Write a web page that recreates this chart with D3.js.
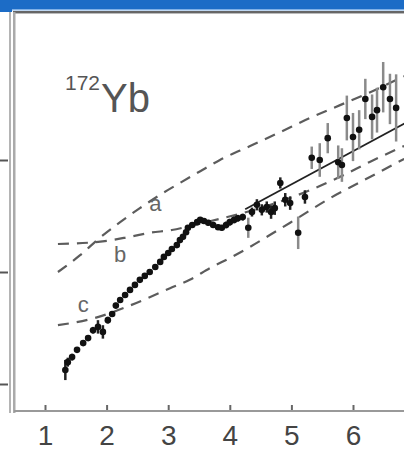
<!DOCTYPE html>
<html><head><meta charset="utf-8">
<script src="https://cdn.jsdelivr.net/npm/d3@7"></script>
<style>html,body{margin:0;padding:0;background:#fff;overflow:hidden}</style>
</head><body>
<svg id="chart" width="404" height="450"></svg>
<script>
// Level density of 172Yb: excitation energy (MeV) vs log10 of level density
const energy = [1.33,1.37,1.44,1.52,1.62,1.70,1.78,1.86,1.94,2.02,2.09,2.15,2.22,2.30,2.38,2.46,2.54,2.62,2.70,2.79,2.87,2.93,3.00,3.06,3.14,3.19,3.24,3.29,3.32,3.39,3.47,3.52,3.58,3.65,3.73,3.81,3.87,3.94,4.00,4.07,4.13,4.21,4.30,4.36,4.44,4.52,4.60,4.67,4.73,4.82,4.90,4.98,5.11,5.22,5.33,5.46,5.59,5.76,5.82,5.90,6.00,6.10,6.20,6.31,6.39,6.49,6.60,6.70];
const logRho = [2.25,2.39,2.48,2.61,2.73,2.82,2.96,3.02,2.93,3.14,3.25,3.40,3.50,3.59,3.68,3.77,3.86,3.93,4.00,4.09,4.18,4.27,4.34,4.41,4.48,4.57,4.63,4.71,4.79,4.84,4.89,4.93,4.91,4.88,4.84,4.80,4.79,4.84,4.89,4.93,4.96,4.98,4.79,5.07,5.20,5.11,5.16,5.07,5.14,5.59,5.29,5.23,4.70,5.34,6.04,6.00,6.39,5.96,5.91,6.75,6.41,6.54,7.09,6.77,6.89,7.30,7.09,6.93];
const logErr = [0.18,0.08,0.06,0.05,0.05,0.05,0.06,0.12,0.12,0.06,0.05,0.05,0.05,0.05,0.05,0.05,0.05,0.05,0.05,0.05,0.05,0.05,0.05,0.05,0.05,0.05,0.05,0.05,0.05,0.05,0.05,0.05,0.05,0.05,0.05,0.05,0.05,0.06,0.06,0.06,0.06,0.06,0.18,0.08,0.10,0.10,0.10,0.12,0.12,0.10,0.12,0.12,0.29,0.12,0.20,0.30,0.27,0.30,0.30,0.40,0.43,0.35,0.36,0.40,0.40,0.45,0.45,0.60];

// Model curves a, b, c
const curveAE = [1.21,1.57,1.89,2.22,2.54,2.87,3.19,3.52,3.84,4.33,4.82,5.30,5.79,6.28,6.83];
const curveAL = [4.00,4.30,4.61,4.89,5.14,5.38,5.59,5.80,6.00,6.25,6.50,6.75,6.98,7.21,7.50];
const curveBE = [1.21,1.97,2.38,2.70,3.06,3.35,3.84,4.33,4.82,5.30,5.79,6.28,6.83];
const curveBL = [4.50,4.55,4.63,4.70,4.75,4.82,4.95,5.09,5.26,5.46,5.70,5.97,6.25];
const curveCE = [1.21,1.81,2.33,2.70,3.03,3.35,3.68,4.00,4.33,4.65,4.98,5.30,5.63,6.11,6.83];
const curveCL = [3.05,3.18,3.38,3.55,3.71,3.86,4.07,4.25,4.45,4.66,4.88,5.10,5.32,5.60,6.02];

// Straight fit through the high-energy data
const fitE = [4.25,6.85];
const fitL = [5.12,6.66];

const curveLabels = ["a","b","c"];
const labelE = [2.79,2.22,1.62];
const labelL = [5.09,4.18,3.29];

const xTicks = [1,2,3,4,5,6,7];
const yTicks = [2,4,6];

const svg = d3.select("#chart");
const x = d3.scaleLinear().domain([1,6]).range([45,353]);
const y = d3.scaleLinear().domain([2,6]).range([384,160]);
const font = "Liberation Sans, Arial, sans-serif";

// window frame
svg.append("rect").attr("x",0).attr("y",0).attr("width",404).attr("height",9).attr("fill","#1c6cc6");
svg.append("rect").attr("x",0).attr("y",9).attr("width",12).attr("height",3).attr("fill","#1c6cc6");
svg.append("rect").attr("x",12).attr("y",9).attr("width",392).attr("height",1.5).attr("fill","#7fb0e6");
svg.append("rect").attr("x",13).attr("y",11).attr("width",391).attr("height",2).attr("fill","#666");
svg.append("rect").attr("x",13).attr("y",13).attr("width",391).attr("height",1).attr("fill","#bbb");
svg.append("rect").attr("x",9).attr("y",12).attr("width",2).attr("height",401).attr("fill","#b4b4b4");
svg.append("rect").attr("x",13).attr("y",12).attr("width",2.5).attr("height",401).attr("fill","#aaa");

// x axis
const xAxis = d3.axisBottom(x).tickValues(xTicks).tickSize(-6).tickPadding(14).tickFormat(d3.format("d"));
const gx = svg.append("g").attr("transform","translate(0,411)").call(xAxis);
gx.select(".domain").remove();
gx.selectAll(".tick line").attr("stroke","#666").attr("stroke-width",2);
gx.selectAll(".tick text").attr("font-family",font).attr("font-size",28).attr("fill","#444").attr("dy","0.72em");
svg.append("line").attr("x1",14).attr("x2",404).attr("y1",411).attr("y2",411).attr("stroke","#999").attr("stroke-width",2);

// y axis ticks (outward, labels fall outside the window)
const yAxis = d3.axisLeft(y).tickValues(yTicks).tickSize(8).tickFormat("");
const gy = svg.append("g").attr("transform","translate(8,0)").call(yAxis);
gy.select(".domain").remove();
gy.selectAll(".tick line").attr("stroke","#555").attr("stroke-width",2);

// clip region for plotted marks
svg.append("clipPath").attr("id","plot").append("rect").attr("x",16).attr("y",14).attr("width",388).attr("height",396);
const plot = svg.append("g").attr("clip-path","url(#plot)");

const line = d3.line().x(d=>x(d[0])).y(d=>y(d[1])).curve(d3.curveMonotoneX);
[[curveAE,curveAL],[curveBE,curveBL],[curveCE,curveCL]].forEach(([es,ls])=>{
  plot.append("path").datum(es.map((e,i)=>[e,ls[i]]))
    .attr("d",line).attr("fill","none").attr("stroke","#5c5c5c").attr("stroke-width",2.2)
    .attr("stroke-dasharray","11,8");
});

plot.append("path").datum(fitE.map((e,i)=>[e,fitL[i]]))
  .attr("d",d3.line().x(d=>x(d[0])).y(d=>y(d[1])))
  .attr("fill","none").attr("stroke","#222").attr("stroke-width",1.8);

// error bars
const pts = energy.map((e,i)=>({e, l:logRho[i], s:logErr[i]}));
plot.selectAll("line.err").data(pts).enter().append("line").attr("class","err")
  .attr("x1",d=>x(d.e)).attr("x2",d=>x(d.e))
  .attr("y1",d=>y(d.l-d.s)).attr("y2",d=>y(d.l+d.s))
  .attr("stroke",d=>d.s>0.15 && d.e>4.2 ? "#8a8a8a" : "#222").attr("stroke-width",2.5);

plot.selectAll("circle.pt").data(pts).enter().append("circle").attr("class","pt")
  .attr("cx",d=>x(d.e)).attr("cy",d=>y(d.l)).attr("r",3.3).attr("fill","#111");

// curve labels
plot.selectAll("text.lab").data(curveLabels).enter().append("text").attr("class","lab")
  .attr("x",(d,i)=>x(labelE[i])).attr("y",(d,i)=>y(labelL[i]))
  .attr("text-anchor","middle").attr("font-family",font).attr("font-size",22).attr("fill","#666")
  .text(d=>d);

// nucleus label
svg.append("text").attr("x",65).attr("y",90).attr("font-family",font).attr("font-size",21).attr("fill","#555").text("172");
svg.append("text").attr("x",101).attr("y",112).attr("font-family",font).attr("font-size",40).attr("fill","#555").text("Yb");
</script>
</body></html>
